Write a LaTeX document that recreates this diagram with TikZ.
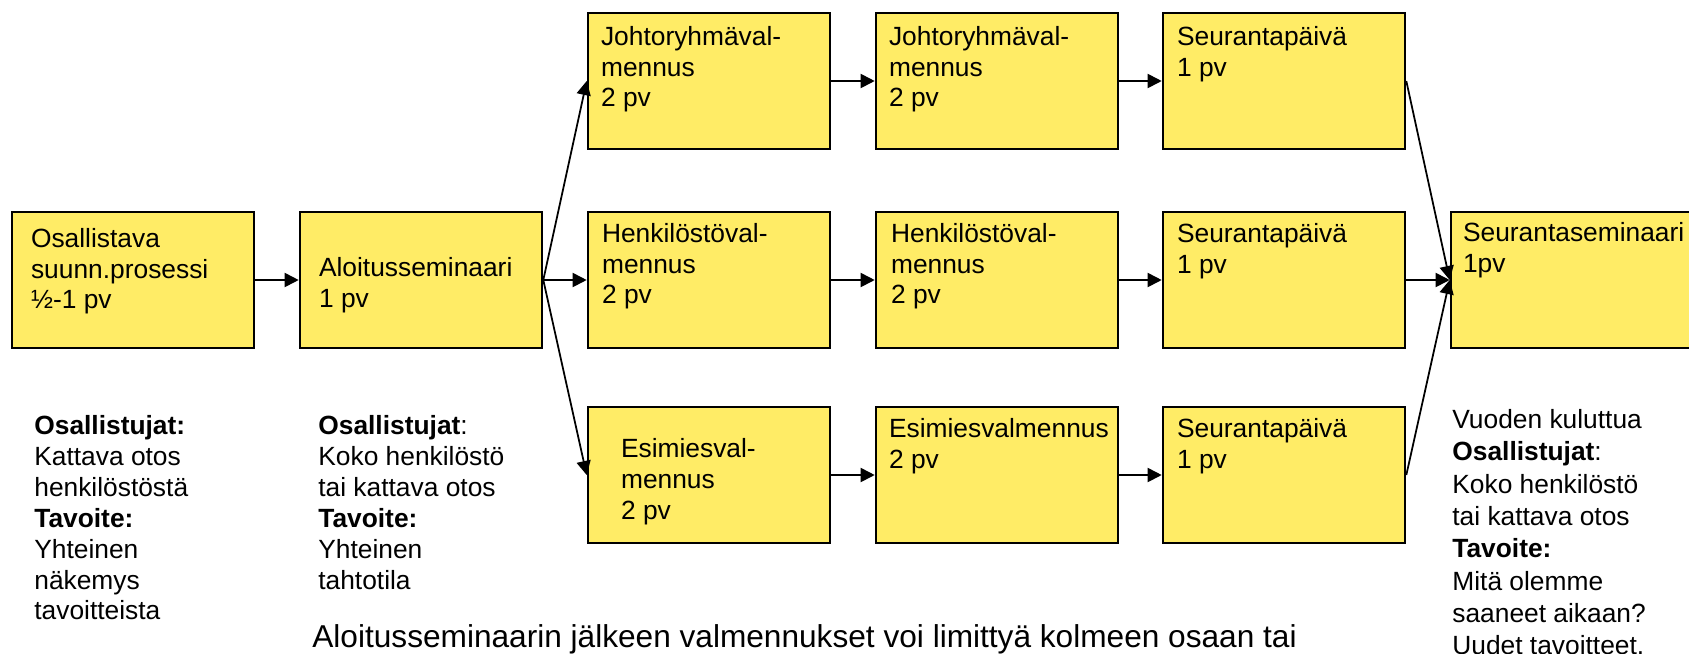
\documentclass[tikz,border=0pt]{standalone}
\usepackage{fontspec}
\setmainfont{Liberation Sans}
\usetikzlibrary{arrows.meta}
\definecolor{boxyellow}{RGB}{255,236,102}
\begin{document}
\begin{tikzpicture}[x=0.02cm,y=-0.02cm,
    box/.style={draw,fill=boxyellow,line width=1.5pt,minimum width=4.84cm,minimum height=2.72cm,inner sep=0pt},
    txt/.style={anchor=north west,align=left,inner sep=0pt,font=\fontsize{15}{17.6}\selectfont},
    note/.style={anchor=north west,align=left,inner sep=0pt,font=\fontsize{15}{17.6}\selectfont},
    arr/.style={line width=1pt,-{Triangle[length=8pt,width=8pt]}}]
    \useasboundingbox(0,0)rectangle(1689,653);
    \clip(0,0)rectangle(1689,653);
    % boxes
    \node[box](osal)at(133,280){};
    \node[box](aloi)at(421,280){};
    \node[box](joh1)at(709,81){};
    \node[box](joh2)at(997,81){};
    \node[box](seur1)at(1284,81){};
    \node[box](hen1)at(709,280){};
    \node[box](hen2)at(997,280){};
    \node[box](seur2)at(1284,280){};
    \node[box](esi1)at(709,475){};
    \node[box](esi2)at(997,475){};
    \node[box](seur3)at(1284,475){};
    \node[box](sem)at(1572,280){};
    % box texts
    \node[txt](osal-t)at([shift={(20,17)}]osal.north west){Osallistava\\suunn.prosessi\\½-1 pv};
    \node[txt](aloi-t)at([shift={(20,46)}]aloi.north west){Aloitusseminaari\\1 pv};
    \node[txt](joh1-t)at([shift={(14,14)}]joh1.north west){Johtoryhmäval-\\mennus\\2 pv};
    \node[txt](joh2-t)at([shift={(14,14)}]joh2.north west){Johtoryhmäval-\\mennus\\2 pv};
    \node[txt](seur1-t)at([shift={(15,14)}]seur1.north west){Seurantapäivä\\1 pv};
    \node[txt](hen1-t)at([shift={(15,12)}]hen1.north west){Henkilöstöval-\\mennus\\2 pv};
    \node[txt](hen2-t)at([shift={(16,12)}]hen2.north west){Henkilöstöval-\\mennus\\2 pv};
    \node[txt](seur2-t)at([shift={(15,12)}]seur2.north west){Seurantapäivä\\1 pv};
    \node[txt](esi1-t)at([shift={(34,32)}]esi1.north west){Esimiesval-\\mennus\\2 pv};
    \node[txt](esi2-t)at([shift={(14,12)}]esi2.north west){Esimiesvalmennus\\2 pv};
    \node[txt](seur3-t)at([shift={(15,12)}]seur3.north west){Seurantapäivä\\1 pv};
    \node[txt](sem-t)at([shift={(13,11)}]sem.north west){Seurantaseminaari\\1pv};
    % arrows
    \draw[arr](osal)--(aloi);
    \draw[arr](aloi.east)--(joh1.west);
    \draw[arr](aloi.east)--(hen1.west);
    \draw[arr](aloi.east)--(esi1.west);
    \draw[arr](joh1)--(joh2);
    \draw[arr](joh2)--(seur1);
    \draw[arr](hen1)--(hen2);
    \draw[arr](hen2)--(seur2);
    \draw[arr](esi1)--(esi2);
    \draw[arr](esi2)--(seur3);
    \draw[arr](seur1.east)--(sem.west);
    \draw[arr](seur2.east)--(sem.west);
    \draw[arr](seur3.east)--(sem.west);
    % notes below
    \node[note](osal-n)at(34,415){\textbf{Osallistujat:}\\Kattava otos\\henkilöstöstä\\\textbf{Tavoite:}\\Yhteinen\\näkemys\\tavoitteista};
    \node[note](aloi-n)at(318,415){\textbf{Osallistujat}:\\Koko henkilöstö\\tai kattava otos\\\textbf{Tavoite:}\\Yhteinen\\tahtotila};
    \node[note,font=\fontsize{15}{18.4}\selectfont](sem-n)at(1452,409){Vuoden kuluttua\\\textbf{Osallistujat}:\\Koko henkilöstö\\tai kattava otos\\\textbf{Tavoite:}\\Mitä olemme\\saaneet aikaan?\\Uudet tavoitteet.};
    \node[anchor=base west,inner sep=0pt,font=\fontsize{18}{21}\selectfont](caption)at(312,647){Aloitusseminaarin jälkeen valmennukset voi limittyä kolmeen osaan tai};
\end{tikzpicture}
\end{document}
